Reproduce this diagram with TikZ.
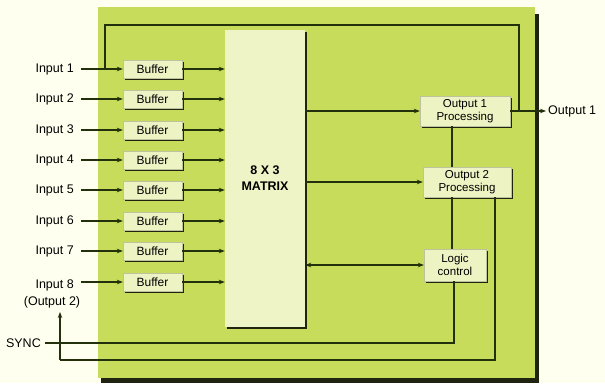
\documentclass[tikz,border=0pt]{standalone}
\usepackage{fontspec}
\setmainfont{Liberation Sans}
\usetikzlibrary{arrows.meta}
\definecolor{bgc}{HTML}{FFFFF0}
\definecolor{panel}{HTML}{C8DC5C}
\definecolor{boxc}{HTML}{EEF3C4}
\definecolor{linec}{HTML}{22300C}
\definecolor{shad}{HTML}{1E2410}
\tikzset{
  x=1pt, y=-1pt,
  conn/.style={draw=linec, line width=1.1pt},
  arr/.style={conn, -{Stealth[length=6pt,width=4.5pt]}},
  darr/.style={conn, {Stealth[length=6pt,width=4.5pt]}-{Stealth[length=6pt,width=4.5pt]}},
  blk/.style={fill=boxc, draw=boxc!80!black, line width=0.3pt, inner sep=1pt, align=center,
     font=\fontsize{11.5}{13.5}\selectfont, text=black},
  buf/.style={blk, minimum width=59pt, minimum height=18pt, font=\fontsize{12}{14}\selectfont},
  lab/.style={font=\fontsize{12.5}{15}\selectfont, text=black, inner sep=0pt, align=center},
}
\begin{document}
\begin{tikzpicture}
\useasboundingbox (0,0) rectangle (605,383);
\fill[bgc] (0,0) rectangle (605,383);
% panel with shadow
\fill[shad] (101,14) rectangle (539,383);
\fill[panel] (98,7) rectangle (535,378);
% matrix
\fill[shad] (227,32) rectangle (307,329);
\node[fill=boxc!95!white, minimum width=80pt, minimum height=297pt, inner sep=0pt,
      font=\bfseries\fontsize{12.5}{16}\selectfont, align=center] (m) at (265,178.5) {8 X 3\\MATRIX};
% buffers
\foreach \k/\yy in {1/69,2/99,3/130,4/160,5/190,6/221,7/251,8/282}{
  \fill[shad] (124.5,\yy-7.5) rectangle (183.5,\yy+10.5);
  \node[buf] (b\k) at (152.5,\yy) {Buffer};
}
\foreach \k/\yy in {1/69,2/99,3/130,4/160,5/190,6/221,7/251}{
  \node[lab, anchor=east] (i\k) at (74,\yy) {Input \k};
}
\node[lab, anchor=east] (i8) at (74,285) {Input 8};
\node[lab] (o2lab) at (52,302) {(Output 2)};
\foreach \k in {1,...,8}{
  \draw[arr] (i\k.east |- b\k.west) ++(7,0) -- (b\k.west);
  \draw[arr] (b\k.east) -- (m.west |- b\k.west);
}
% output blocks
\fill[shad] (421.5,97.5) rectangle (511.5,127.5);
\node[blk, minimum width=90pt, minimum height=30pt] (o1) at (465,111) {Output 1\\Processing};
\fill[shad] (424.5,168.5) rectangle (512.5,198.5);
\node[blk, minimum width=88pt, minimum height=30pt] (o2) at (467,182) {Output 2\\Processing};
\fill[shad] (425.5,250.5) rectangle (487.5,282.5);
\node[blk, minimum width=62pt, minimum height=32pt] (lc) at (455,265) {Logic\\control};
% matrix to outputs
\draw[arr] (m.east |- o1.west) -- (o1.west);
\draw[arr] (m.east |- o2.west) -- (o2.west);
\draw[darr] (m.east |- lc.west) -- (lc.west);
% output 1
\coordinate (oend) at (546,111);
\draw[arr] (o1.east) -- (oend);
\node[lab, anchor=west] (out1) at (548,111) {Output 1};
% feedback loop to input 1
\coordinate (fb1) at (519,111);
\coordinate (fb2) at (519,25);
\coordinate (fb3) at (105,25);
\coordinate (fb4) at (105,69);
\draw[conn] (fb1) -- (fb2) -- (fb3) -- (fb4);
% vertical links
\coordinate (v1) at (452,0);
\draw[conn] (o1.south -| v1) -- (o2.north -| v1);
\draw[conn] (o2.south -| v1) -- (lc.north -| v1);
% SYNC
\node[lab, anchor=east] (sync) at (41,343) {SYNC};
\coordinate (s1) at (454,343);
\draw[conn] (sync.east) ++(4,0) -- (s1) -- (lc.south -| s1);
% output 2 return
\coordinate (r1) at (495,360);
\coordinate (r2) at (60,360);
\coordinate (r3) at (60,312);
\draw[conn] (o2.south -| r1) -- (r1) -- (r2);
\draw[arr] (r2) -- (r3);
\end{tikzpicture}
\end{document}
